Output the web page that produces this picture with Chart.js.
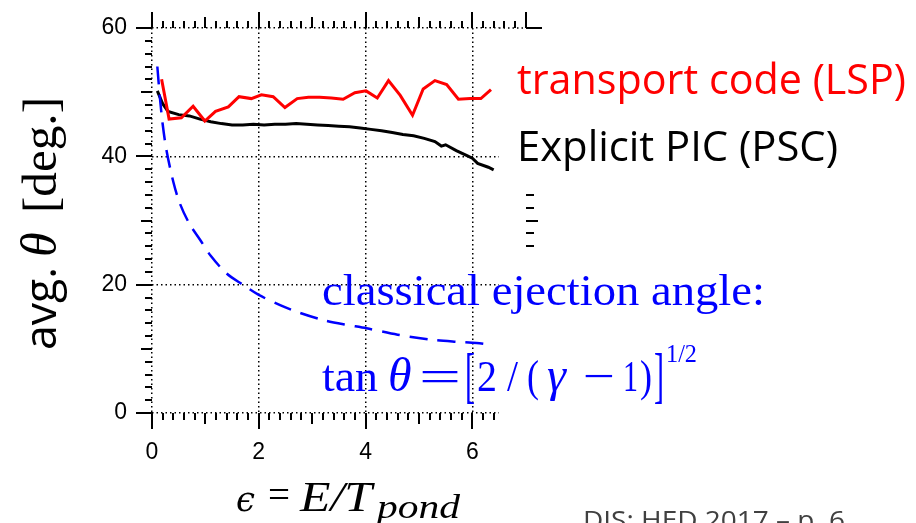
<!DOCTYPE html>
<html>
<head>
<meta charset="utf-8">
<script src="https://cdn.jsdelivr.net/npm/chart.js@4.4.1/dist/chart.umd.min.js"></script>
<style>
  html, body { margin: 0; padding: 0; background: #fff; }
  #wrap { position: relative; width: 916px; height: 523px; overflow: hidden; }
</style>
</head>
<body>
<div id="wrap"><canvas id="chart" width="916" height="523"></canvas></div>
<script>
// values
const lspX = [0.18, 0.32, 0.55, 0.77, 0.99, 1.19, 1.43, 1.63, 1.86, 2.05, 2.27, 2.49, 2.72, 2.93, 3.14,
              3.36, 3.58, 3.80, 4.01, 4.22, 4.43, 4.65, 4.88, 5.08, 5.30, 5.52, 5.74, 5.96, 6.16, 6.35];
const lspY = [52.0, 45.8, 46.0, 47.8, 45.5, 47.0, 47.7, 49.3, 49.0, 49.6, 49.3, 47.6, 49.0, 49.2, 49.2,
              49.1, 48.9, 49.9, 50.2, 49.1, 51.8, 49.5, 46.4, 50.5, 51.8, 51.2, 48.9, 49.0, 49.0, 50.4];

const pscX = [0.10, 0.20, 0.30, 0.50, 0.70, 0.90, 1.10, 1.30, 1.50, 1.70, 1.90, 2.10, 2.30, 2.50, 2.70,
              2.90, 3.10, 3.30, 3.50, 3.70, 3.90, 4.10, 4.30, 4.50, 4.70, 4.90, 5.10, 5.30, 5.42, 5.50,
              5.70, 5.90, 6.00, 6.10, 6.30, 6.40];
const pscY = [50.2, 48.2, 47.0, 46.5, 46.3, 45.8, 45.4, 45.1, 44.9, 44.9, 45.0, 44.9, 45.0, 45.0, 45.1,
              45.0, 44.9, 44.8, 44.7, 44.6, 44.4, 44.2, 44.0, 43.7, 43.4, 43.2, 42.8, 42.3, 41.6, 41.8,
              40.9, 40.1, 39.7, 38.9, 38.3, 37.9];

const classicX = [0.10, 0.15, 0.20, 0.27, 0.40, 0.52, 0.70, 0.90, 1.10, 1.39, 1.70, 2.00, 2.40, 2.77,
                  3.20, 3.60, 4.02, 4.60, 5.27, 5.70, 6.08, 6.36];
const classicY = [54.0, 49.0, 45.0, 41.0, 36.0, 32.7, 29.5, 27.0, 24.5, 21.8, 20.0, 18.4, 16.8, 15.6,
                  14.5, 13.8, 13.2, 12.2, 11.4, 11.1, 10.9, 10.6];

const xTicks = [0, 2, 4, 6];
const yTicks = [0, 20, 40, 60];

const toPoints = (xs, ys) => xs.map((x, i) => ({ x: x, y: ys[i] }));

// igor-style tick marks on all four sides
const frameTicks = {
  id: 'frameTicks',
  afterDraw(chart) {
    const ctx = chart.ctx;
    const xs = chart.scales.x, ys = chart.scales.y;
    const a = chart.chartArea;
    const len = (v, big, mid) => (v % big === 0 ? 16 : v % mid === 0 ? 11 : 7);
    ctx.save();
    ctx.strokeStyle = '#000';
    ctx.lineWidth = 2;
    ctx.beginPath();
    // bottom
    for (let i = 0; i <= 32; i++) {
      const px = Math.round(xs.getPixelForValue(i * 0.2));
      ctx.moveTo(px, a.bottom); ctx.lineTo(px, a.bottom + len(i, 10, 5));
    }
    // top, runs on to the right frame
    for (let i = 0; i <= 35; i++) {
      const px = Math.round(xs.getPixelForValue(i * 0.2));
      const l = i === 35 ? 16 : len(i, 10, 5);
      ctx.moveTo(px, a.top); ctx.lineTo(px, a.top - l);
    }
    // left
    for (let i = 0; i <= 30; i++) {
      const py = Math.round(ys.getPixelForValue(i * 2));
      ctx.moveTo(a.left, py); ctx.lineTo(a.left - len(i, 10, 5), py);
    }
    // right frame, only the bits not hidden by the labels
    const rx = Math.round(xs.getPixelForValue(7));
    [26, 28, 30, 32, 34, 60].forEach(v => {
      const py = Math.round(ys.getPixelForValue(v));
      const l = v === 60 ? 16 : v === 30 ? 12 : 8;
      ctx.moveTo(rx, py); ctx.lineTo(rx + l, py);
    });
    ctx.stroke();
    // dotted top line continues to the right frame
    ctx.lineWidth = 1.5;
    ctx.setLineDash([1.5, 3]);
    ctx.beginPath();
    ctx.moveTo(a.right, a.top); ctx.lineTo(rx, a.top);
    ctx.stroke();
    ctx.restore();
  }
};

// draw a text run, optionally stretched/squeezed to a given width
function run(ctx, s, x, y, font, color, width) {
  ctx.font = font;
  ctx.fillStyle = color;
  if (!width) { ctx.fillText(s, x, y); return; }
  const k = width / ctx.measureText(s).width;
  ctx.save();
  ctx.translate(x, y);
  ctx.scale(k, 1);
  ctx.fillText(s, 0, 0);
  ctx.restore();
}

const notes = {
  id: 'notes',
  afterDraw(chart) {
    const ctx = chart.ctx;
    ctx.save();
    ctx.textBaseline = 'alphabetic';
    ctx.textAlign = 'left';

    // y title, rotated
    ctx.save();
    ctx.translate(56, 0);
    ctx.rotate(-Math.PI / 2);
    run(ctx, 'avg.', -350, 0, '44px "Open Sans"', '#000', 83);
    run(ctx, 'θ', -257, 0, 'italic 50px "Liberation Serif"', '#000');
    run(ctx, '[deg.]', -213, 0, '48px "Liberation Serif"', '#000', 116);
    ctx.restore();

    // x title
    run(ctx, 'ϵ', 236, 511, 'italic 36px "DejaVu Serif"', '#000', 19);
    run(ctx, '=', 268, 508, '40px "Liberation Serif"', '#000', 22);
    run(ctx, 'E/T', 300, 511, 'italic 42px "Liberation Serif"', '#000', 72);
    run(ctx, 'pond', 377, 518, 'italic 34px "Liberation Serif"', '#000', 83);

    // legend labels
    run(ctx, 'transport code (LSP)', 517, 94, '42px "Open Sans"', '#ff0000', 389);
    run(ctx, 'Explicit PIC (PSC)', 517, 161, '42px "Open Sans"', '#000', 321);

    // classical curve label + formula
    const blue = '#0000ff';
    const serif = '45px "Liberation Serif"';
    const serifI = 'italic 48px "Liberation Serif"';
    run(ctx, 'classical ejection angle:', 322, 305, serif, blue, 443);
    run(ctx, 'tan', 322, 391, serif, blue, 56);
    run(ctx, 'θ', 388, 391, serifI, blue);
    run(ctx, '=', 419, 391, serif, blue, 42);
    run(ctx, '[', 465, 396, '62px "Liberation Serif"', blue, 10);
    run(ctx, '2', 477, 391, serif, blue, 20);
    run(ctx, '/', 507, 391, serif, blue, 11);
    run(ctx, '(', 527, 391, serif, blue, 12);
    run(ctx, 'γ', 547, 391, serifI, blue);
    run(ctx, '−', 583, 391, serif, blue, 32);
    run(ctx, '1', 623, 391, serif, blue, 15);
    run(ctx, ')', 640, 391, serif, blue, 12);
    run(ctx, ']', 654, 396, '62px "Liberation Serif"', blue, 10);
    run(ctx, '1/2', 666, 362, '26px "Liberation Serif"', blue, 31);

    // slide footer
    run(ctx, 'DIS: HED 2017 – p. 6', 583, 529, '26px "Open Sans"', '#404040', 262);
    ctx.restore();
  }
};

const dotted = [1.5, 3];

new Chart(document.getElementById('chart'), {
  type: 'line',
  data: {
    datasets: [
      { label: 'transport code (LSP)', data: toPoints(lspX, lspY), borderColor: '#ff0000',
        borderWidth: 3, pointRadius: 0, tension: 0, order: 0 },
      { label: 'classical ejection angle', data: toPoints(classicX, classicY), borderColor: '#0000ff',
        borderDash: [18, 10], borderWidth: 2.5, pointRadius: 0, tension: 0.3, order: 1 },
      { label: 'Explicit PIC (PSC)', data: toPoints(pscX, pscY), borderColor: '#000',
        borderWidth: 3, pointRadius: 0, tension: 0, order: 2 }
    ]
  },
  options: {
    responsive: false,
    animation: false,
    layout: { padding: { top: 28, right: 417, left: 0, bottom: 0 } },
    plugins: { legend: { display: false }, tooltip: { enabled: false } },
    scales: {
      x: {
        type: 'linear', min: 0, max: 6.5,
        afterFit: s => { s.height = 110; s.paddingLeft = 0; s.paddingRight = 0; },
        afterBuildTicks: s => { s.ticks = xTicks.map(v => ({ value: v })); },
        ticks: { padding: 26, color: '#000', font: { family: 'Liberation Sans', size: 23 } },
        grid: { color: '#000', lineWidth: 1.5, drawTicks: false },
        border: { display: false, dash: dotted }
      },
      y: {
        type: 'linear', min: 0, max: 60,
        afterFit: s => { s.width = 152; s.paddingTop = 0; s.paddingBottom = 0; },
        afterBuildTicks: s => { s.ticks = yTicks.map(v => ({ value: v })); },
        ticks: { padding: 25, color: '#000', font: { family: 'Liberation Sans', size: 23 } },
        grid: { color: '#000', lineWidth: 1.5, drawTicks: false },
        border: { display: false, dash: dotted }
      }
    }
  },
  plugins: [frameTicks, notes]
});
</script>
</body>
</html>
